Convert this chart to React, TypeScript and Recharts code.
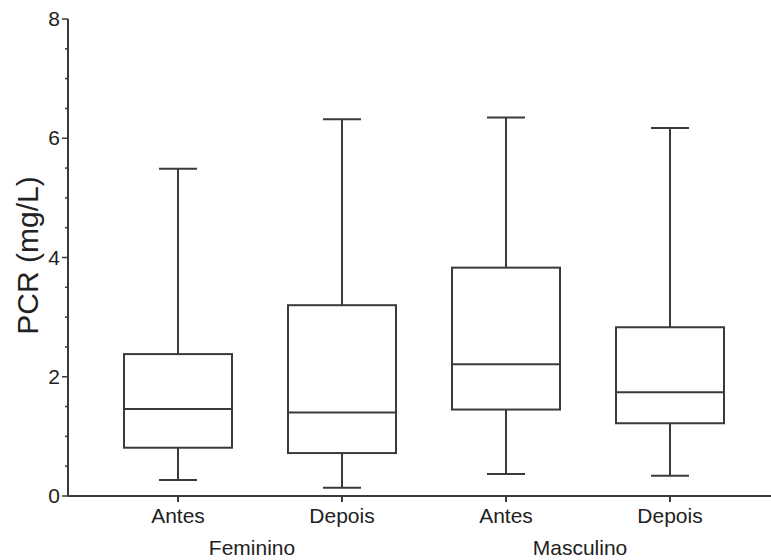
import React from 'react';
import { ComposedChart, Bar, XAxis, YAxis, Label } from 'recharts';

const groups = ['Feminino', 'Feminino', 'Masculino', 'Masculino'];
const periods = ['Antes', 'Depois', 'Antes', 'Depois'];
const mins = [0.27, 0.14, 0.37, 0.34];
const q1s = [0.81, 0.72, 1.45, 1.22];
const medians = [1.46, 1.4, 2.21, 1.74];
const q3s = [2.38, 3.2, 3.83, 2.83];
const maxs = [5.49, 6.32, 6.35, 6.17];
const yTicks = [0, 0.5, 1, 1.5, 2, 2.5, 3, 3.5, 4, 4.5, 5, 5.5, 6, 6.5, 7, 7.5, 8];

const data = periods.map((period, i) => ({
  period,
  group: groups[i],
  min: mins[i],
  q1: q1s[i],
  median: medians[i],
  q3: q3s[i],
  max: maxs[i],
  range: [mins[i], maxs[i]],
}));

const INK = '#3a3a3a';
const FONT = '"Liberation Sans", Arial, Helvetica, sans-serif';

const BoxShape = (props: any) => {
  const { x, y, width, height, payload } = props;
  const { min, q1, median, q3, max } = payload;
  const py = (v: number) => y + (height * (max - v)) / (max - min);
  const cx = x + width / 2;
  const cap = 19;
  return (
    <g stroke={INK} strokeWidth={2} fill="none">
      <line x1={cx} x2={cx} y1={py(max)} y2={py(q3)} />
      <line x1={cx} x2={cx} y1={py(q1)} y2={py(min)} />
      <line x1={cx - cap} x2={cx + cap} y1={py(max)} y2={py(max)} />
      <line x1={cx - cap} x2={cx + cap} y1={py(min)} y2={py(min)} />
      <rect x={x} y={py(q3)} width={width} height={py(q1) - py(q3)} fill="#fff" />
      <line x1={x} x2={x + width} y1={py(median)} y2={py(median)} />
    </g>
  );
};

const YTick = (props: any) => {
  const { x, y, payload } = props;
  const v = payload.value;
  const major = v % 2 === 0;
  return (
    <g>
      <line x1={x - (major ? 6 : 3)} x2={x} y1={y} y2={y} stroke={INK} strokeWidth={1.5} />
      {major && (
        <text x={x - 8} y={y} dy={7} textAnchor="end" fontSize={21} fill="#222" fontFamily={FONT}>
          {v}
        </text>
      )}
    </g>
  );
};

const XTick = (props: any) => {
  const { x, y, payload, index } = props;
  return (
    <g fontFamily={FONT} fill="#222">
      <text x={x} y={y} dy={19} textAnchor="middle" fontSize={21}>
        {payload.value}
      </text>
      {index % 2 === 0 && (
        <text x={x + 74} y={y} dy={51} textAnchor="middle" fontSize={21}>
          {groups[index]}
        </text>
      )}
    </g>
  );
};

const YLabel = (props: any) => {
  const { viewBox } = props;
  const cx = viewBox.x + 27;
  const cy = viewBox.y + viewBox.height / 2 - 2;
  return (
    <text
      x={cx}
      y={cy}
      transform={`rotate(-90, ${cx}, ${cy})`}
      textAnchor="middle"
      dominantBaseline="central"
      fontSize={30}
      fill="#222"
      fontFamily={FONT}
    >
      PCR (mg/L)
    </text>
  );
};

export default function App() {
  return (
    <div style={{ position: 'absolute', left: 0, top: 0, background: '#fff' }}>
      <ComposedChart width={771} height={560} data={data} margin={{ top: 19, right: 0, bottom: 0, left: 0 }}>
        <XAxis
          dataKey="period"
          height={64}
          padding={{ left: 28, right: 19 }}
          axisLine={{ stroke: INK, strokeWidth: 2 }}
          tickLine={{ stroke: INK, strokeWidth: 2 }}
          tickSize={6}
          tick={<XTick />}
          interval={0}
        />
        <YAxis
          width={68}
          domain={[0, 8]}
          ticks={yTicks}
          interval={0}
          tickSize={0}
          tickMargin={0}
          tickLine={false}
          axisLine={{ stroke: INK, strokeWidth: 2 }}
          tick={<YTick />}
        >
          <Label content={<YLabel />} />
        </YAxis>
        <Bar dataKey="range" barSize={108} shape={<BoxShape />} isAnimationActive={false} />
      </ComposedChart>
    </div>
  );
}
